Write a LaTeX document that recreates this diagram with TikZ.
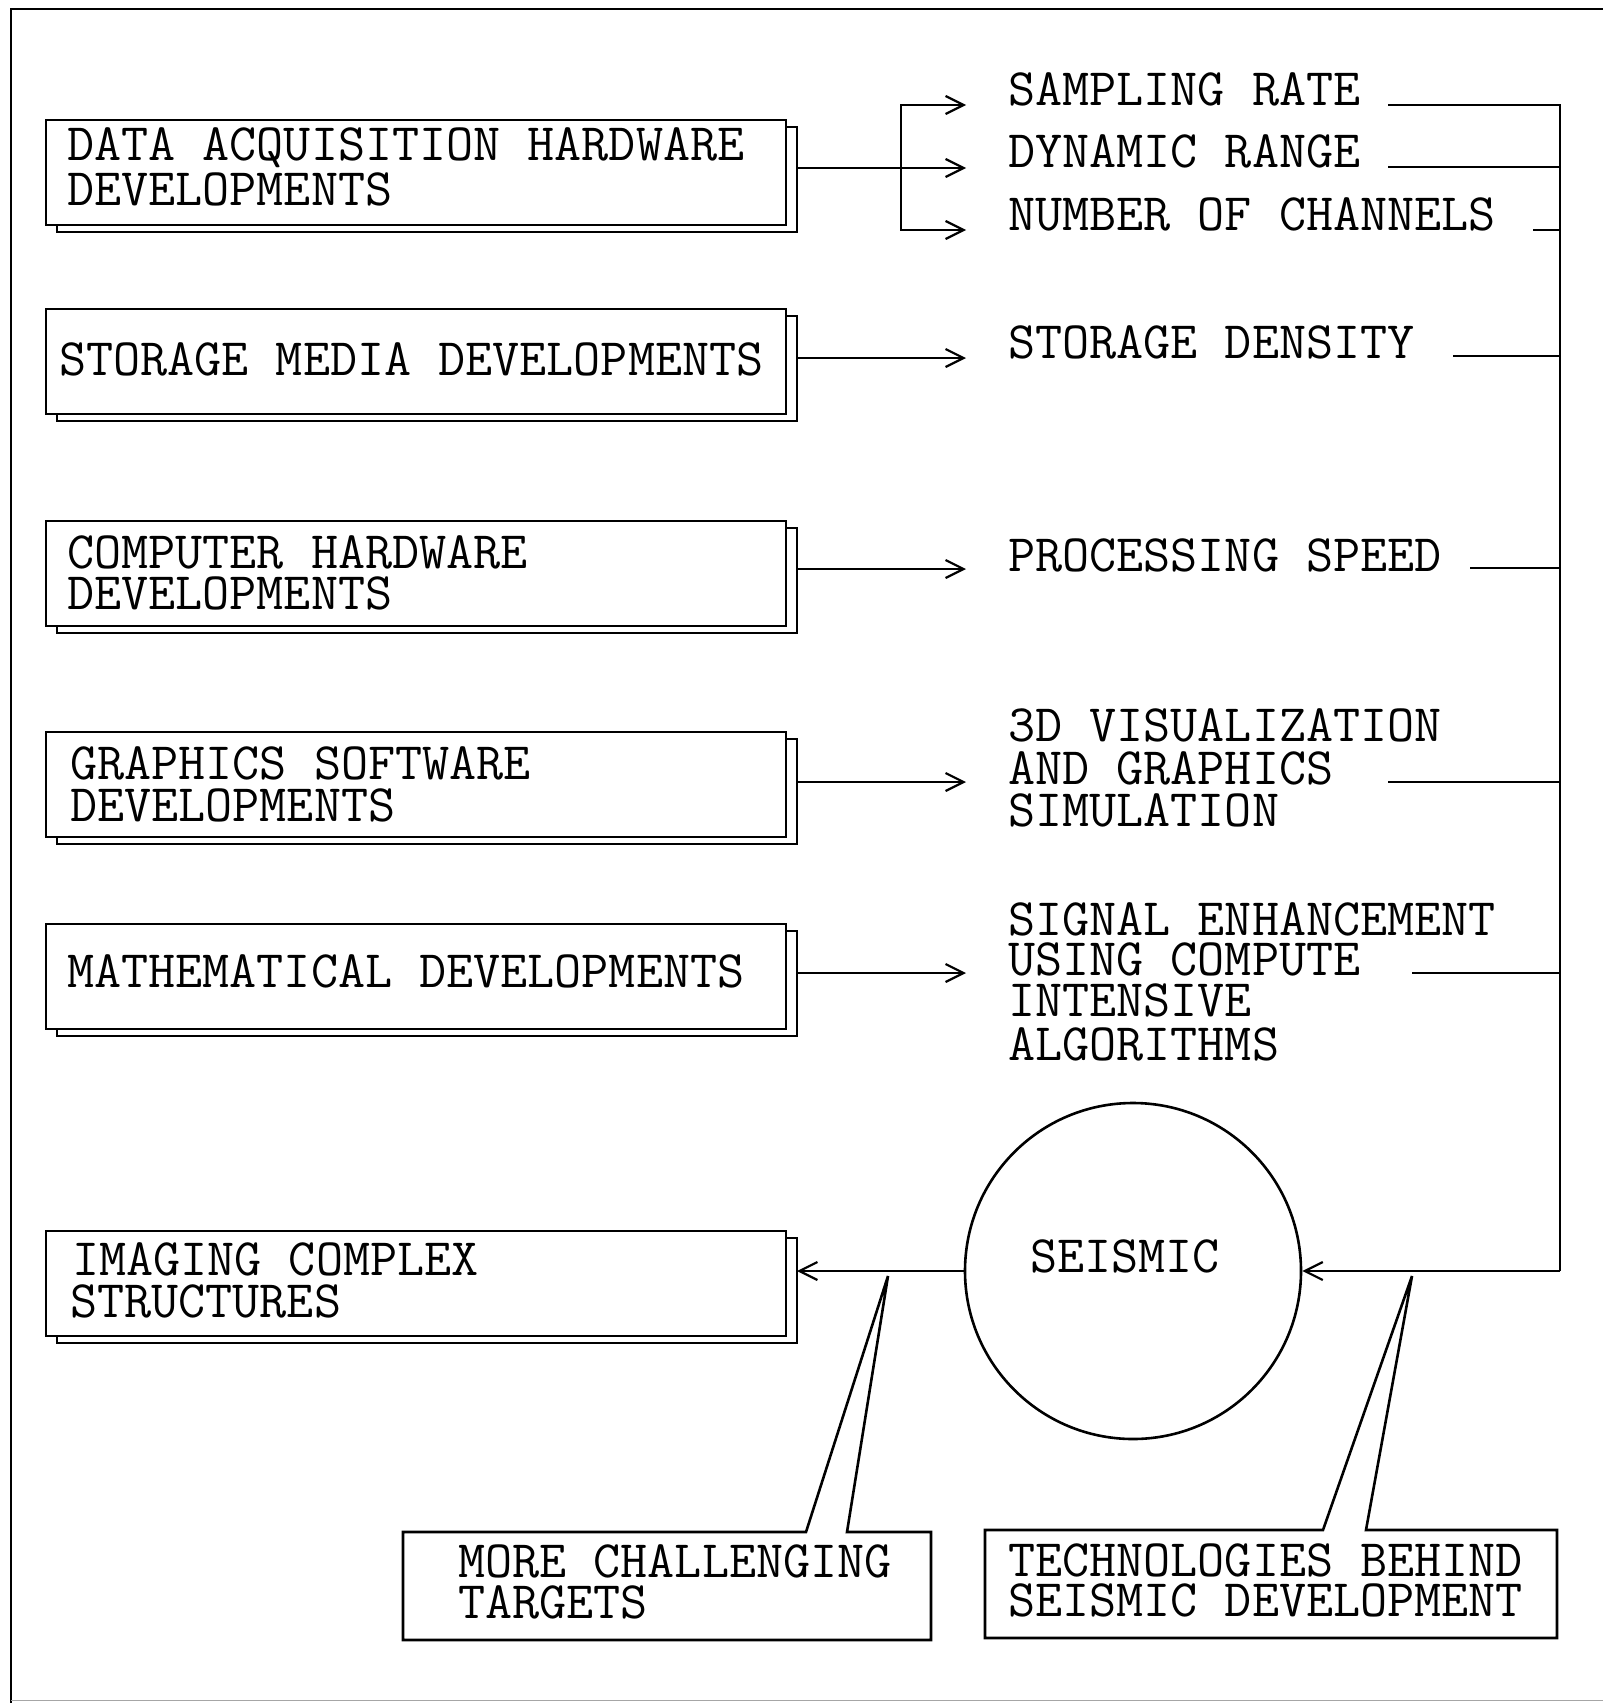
\documentclass[tikz,border=0pt]{standalone}
\usepackage{fontspec}
\usetikzlibrary{arrows.meta}
\begin{document}
\begin{tikzpicture}[x=1pt,y=-1pt,
  box/.style={draw, line width=2.8pt, fill=white, minimum width=740pt, minimum height=105pt, inner sep=0pt, outer sep=0pt, anchor=north west},
  txt/.style={font=\ttfamily\addfontfeatures{LetterSpace=1.2}\fontsize{52.6}{45}\selectfont, anchor=base west, inner sep=0pt, text height=31pt, text depth=1pt},
  arr/.style={line width=2.2pt, -{Straight Barb[length=18pt,width=18pt,line width=2.2pt]}},
  ln/.style={line width=2.2pt}]
\useasboundingbox (0,0) rectangle (1603,1703);
% frame
\draw[line width=2.2pt] (1603,9) -- (11,9) -- (11,1703);
\draw[line width=1pt, black!35] (11,1700) -- (1603,1700);
% left boxes (shadow then front)
\foreach \n/\y in {1/120,2/309,3/521,4/732,5/924,6/1231}{
  \node[box] (b\n s) at (57,\y+7) {};
  \node[box] (b\n) at (46,\y) {};
}
\node[txt] (t1a) at (67,160) {DATA ACQUISITION HARDWARE};
\node[txt] (t1b) at (67,205) {DEVELOPMENTS};
\node[txt] (t2)  at (59,375) {STORAGE MEDIA DEVELOPMENTS};
\node[txt] (t3a) at (67,568) {COMPUTER HARDWARE};
\node[txt] (t3b) at (67,609) {DEVELOPMENTS};
\node[txt] (t4a) at (70,779) {GRAPHICS SOFTWARE};
\node[txt] (t4b) at (70,821) {DEVELOPMENTS};
\node[txt] (t5)  at (67,987) {MATHEMATICAL DEVELOPMENTS};
\node[txt] (t6a) at (72,1275) {IMAGING COMPLEX};
\node[txt] (t6b) at (70,1317) {STRUCTURES};
% right labels
\node[txt] (r1) at (1008,105) {SAMPLING RATE};
\node[txt] (r2) at (1008,167) {DYNAMIC RANGE};
\node[txt] (r3) at (1008,230) {NUMBER OF CHANNELS};
\node[txt] (r4) at (1008,358) {STORAGE DENSITY};
\node[txt] (r5) at (1008,571) {PROCESSING SPEED};
\node[txt] (r6a) at (1008,741) {3D VISUALIZATION};
\node[txt] (r6b) at (1008,784) {AND GRAPHICS};
\node[txt] (r6c) at (1008,826) {SIMULATION};
\node[txt] (r7a) at (1008,935) {SIGNAL ENHANCEMENT};
\node[txt] (r7b) at (1008,975) {USING COMPUTE};
\node[txt] (r7c) at (1008,1016) {INTENSIVE};
\node[txt] (r7d) at (1008,1060) {ALGORITHMS};
% arrows from boxes
\coordinate (j) at (901,168);
\draw[ln] (b1s.east |- j) -- (j);
\draw[arr] (j) -- (966,168);
\draw[arr] (j) |- (966,105);
\draw[arr] (j) |- (966,230);
\draw[arr] (b2s.east |- 0,358) -- (966,358);
\draw[arr] (b3s.east |- 0,569) -- (966,569);
\draw[arr] (b4s.east |- 0,782) -- (966,782);
\draw[arr] (b5s.east |- 0,973) -- (966,973);
% bus on the right
\coordinate (bt) at (1560,105);
\coordinate (bb) at (1560,1271);
\draw[ln] (1388,105) -- (bt) -- (bb);
\draw[ln] (1388,167) -- (1560,167);
\draw[ln] (1533,230) -- (1560,230);
\draw[ln] (1453,356) -- (1560,356);
\draw[ln] (1470,568) -- (1560,568);
\draw[ln] (1388,782) -- (1560,782);
\draw[ln] (1412,973) -- (1560,973);
% seismic circle
\node[circle, draw, line width=2.6pt, minimum size=336pt, inner sep=0pt] (c) at (1133,1271) {};
\node[txt] (cs) at (1030,1272) {SEISMIC};
\draw[arr] (bb) -- (c.east);
\draw[arr] (c.west) -- (b6s.east |- c.west);
% callouts
\draw[line width=2.6pt, line join=miter] (806,1532) -- (403,1532) -- (403,1640) -- (931,1640) -- (931,1532) -- (847,1532) -- (888,1276) -- cycle;
\node[txt] (m1) at (458,1577) {MORE CHALLENGING};
\node[txt] (m2) at (458,1618) {TARGETS};
\draw[line width=2.6pt, line join=miter] (1323,1530) -- (985,1530) -- (985,1638) -- (1557,1638) -- (1557,1530) -- (1366,1530) -- (1412,1276) -- cycle;
\node[txt] (k1) at (1008,1576) {TECHNOLOGIES BEHIND};
\node[txt] (k2) at (1008,1616) {SEISMIC DEVELOPMENT};
\end{tikzpicture}
\end{document}
